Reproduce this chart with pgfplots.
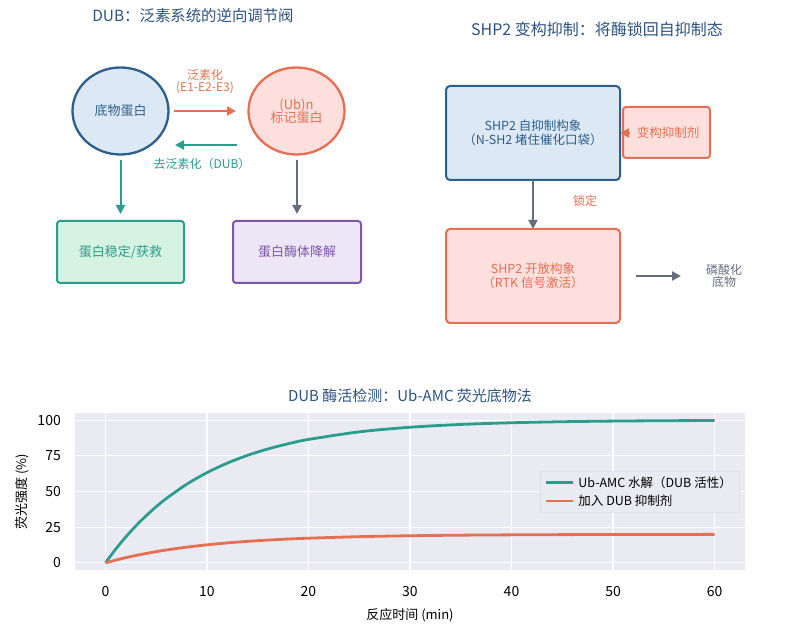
\documentclass[border=0pt]{standalone}
\usepackage{pgfplots}
\pgfplotsset{compat=1.18}
\usepackage{fontspec}
\setmainfont{Noto Sans CJK SC}
\usetikzlibrary{arrows.meta}

\definecolor{titleblue}{RGB}{44,82,130}
\definecolor{blueline}{RGB}{44,95,141}
\definecolor{bluefill}{RGB}{220,232,244}
\definecolor{redline}{RGB}{231,111,81}
\definecolor{redfill}{RGB}{253,224,221}
\definecolor{greenline}{RGB}{42,157,143}
\definecolor{greenfill}{RGB}{214,242,224}
\definecolor{purpleline}{RGB}{126,87,170}
\definecolor{purplefill}{RGB}{236,230,246}
\definecolor{arrowgray}{RGB}{100,110,125}
\definecolor{bg}{RGB}{234,234,242}
\definecolor{legendgray}{RGB}{210,210,216}

\newcommand{\fs}[1]{\fontsize{#1}{1.25\dimexpr #1pt\relax}\selectfont}

\begin{document}
\begin{tikzpicture}
\useasboundingbox (0pt,0pt) rectangle (788pt,-631pt);

% ---- diagrams ----
\begin{scope}[x=1pt, y=-1pt, >={Triangle[length=9pt,width=9pt]}]
  % left panel
  \node[text=titleblue, font=\fs{15.4}] at (193,16) {DUB：泛素系统的逆向调节阀};

  \draw[blueline, fill=bluefill, line width=2.3pt] (120.5,111) ellipse [x radius=48pt, y radius=43.5pt];
  \draw[redline, fill=redfill, line width=2.3pt] (296.5,111) ellipse [x radius=48pt, y radius=43.5pt];
  \node[text=blueline, font=\fs{13}] at (120.5,111) {底物蛋白};
  \node[text=redline, font=\fs{13}, align=center, inner sep=0pt] at (296.5,111) {(Ub)n\\[-3pt]标记蛋白};

  \draw[->, redline, line width=2pt] (174,111) -- (236,111);
  \node[text=redline, font=\fs{12}, align=center, inner sep=0pt] at (205,82) {泛素化\\[-3pt](E1-E2-E3)};
  \draw[->, greenline, line width=2pt] (237,145) -- (175,145);
  \node[text=greenline, font=\fs{12}] at (202,164) {去泛素化（DUB）};

  \draw[->, greenline, line width=2pt] (120.5,160) -- (120.5,214);
  \draw[->, arrowgray, line width=2pt] (297,160) -- (297,214);

  \draw[greenline, fill=greenfill, line width=2pt, rounded corners=3pt] (57,221) rectangle (184,283);
  \node[text=greenline, font=\fs{13}] at (120.5,252) {蛋白稳定/获救};
  \draw[purpleline, fill=purplefill, line width=2pt, rounded corners=3pt] (233,221) rectangle (361,283);
  \node[text=purpleline, font=\fs{13}] at (297,252) {蛋白酶体降解};

  % right panel
  \node[text=titleblue, font=\fs{16}] at (597,29) {SHP2 变构抑制：将酶锁回自抑制态};

  \draw[blueline, fill=bluefill, line width=2pt, rounded corners=4pt] (446,86) rectangle (620,180);
  \node[text=blueline, font=\fs{12.5}, align=center, inner sep=0pt] at (533,133) {SHP2 自抑制构象\\[-2pt]（N-SH2 堵住催化口袋）};

  \draw[redline, fill=redfill, line width=2pt, rounded corners=3pt] (623,107) rectangle (710,158);
  \node[text=redline, font=\fs{12.5}] at (668,133) {变构抑制剂};
  \draw[->, redline, line width=1.5pt] (630,133) -- (620,133);

  \draw[->, arrowgray, line width=2pt] (533,180) -- (533,229);
  \node[text=redline, font=\fs{12}] at (585,201) {锁定};

  \draw[redline, fill=redfill, line width=2pt, rounded corners=4pt] (446,229) rectangle (620,323);
  \node[text=redline, font=\fs{12.5}, align=center, inner sep=0pt] at (533,276) {SHP2 开放构象\\[-2pt]（RTK 信号激活）};

  \draw[->, arrowgray, line width=2pt] (636,276) -- (681,276);
  \node[text=arrowgray, font=\fs{12}, align=center, inner sep=0pt] at (724,276) {磷酸化\\[-3pt]底物};
\end{scope}

% ---- kinetics chart ----
\begin{axis}[
  at={(75pt,-570pt)}, anchor=south west,
  scale only axis,
  width=670pt, height=157pt,
  xmin=-3, xmax=63,
  ymin=-5, ymax=105,
  xtick={0,10,...,60},
  ytick={0,25,50,75,100},
  axis background/.style={fill=bg},
  axis line style={draw=none},
  major tick length=0pt,
  grid=major,
  grid style={white, line width=1.1pt},
  tick label style={font=\fs{14}},
  /pgf/number format/assume math mode=true,
  xticklabel style={anchor=center, yshift=-22pt},
  yticklabel style={anchor=east, inner sep=0pt, xshift=-14pt},
  title={DUB 酶活检测：Ub-AMC 荧光底物法},
  title style={font=\fs{15}, text=titleblue, at={(axis description cs:0.5,1)}, anchor=center, yshift=11pt},
  xlabel={反应时间 (min)},
  ylabel={荧光强度 (\%)},
  label style={font=\fs{13}},
  xlabel style={at={(axis description cs:0.5,-0.29)}, anchor=center},
  ylabel style={at={(axis description cs:-0.079,0.5)}, anchor=center},
  legend style={
    at={(axis description cs:0.9925,0.63)}, anchor=north east,
    fill=bg, draw=legendgray, rounded corners=2pt,
    font=\fs{12.5}, row sep=1pt, inner xsep=4pt, inner ysep=3pt,
    nodes={inner xsep=4pt, inner ysep=2.5pt},
    legend cell align=left},
  legend image code/.code={\draw[#1, line width=2.8pt] (0pt,0pt) -- (27pt,0pt);},
]
  \addplot[greenline, line width=2.8pt, smooth] coordinates {
    (0,0) (1,9.52) (2,18.13) (3,25.92) (4,32.97) (5,39.35) (6,45.12)
    (8,55.07) (10,63.21) (12,69.88) (14,75.34) (16,79.81) (18,83.47)
    (20,86.47) (25,91.79) (30,95.02) (35,96.98) (40,98.17) (45,98.89)
    (50,99.33) (55,99.59) (60,99.75)
  };
  \addlegendentry{Ub-AMC 水解（DUB 活性）}

  \addplot[redline, line width=2.8pt, smooth] coordinates {
    (0,0) (1,1.90) (2,3.63) (3,5.18) (4,6.59) (5,7.87) (6,9.02)
    (8,11.01) (10,12.64) (12,13.98) (14,15.07) (16,15.96) (18,16.69)
    (20,17.29) (25,18.36) (30,19.00) (35,19.40) (40,19.63) (45,19.78)
    (50,19.87) (55,19.92) (60,19.95)
  };
  \addlegendentry{加入 DUB 抑制剂}
\end{axis}
\end{tikzpicture}
\end{document}
